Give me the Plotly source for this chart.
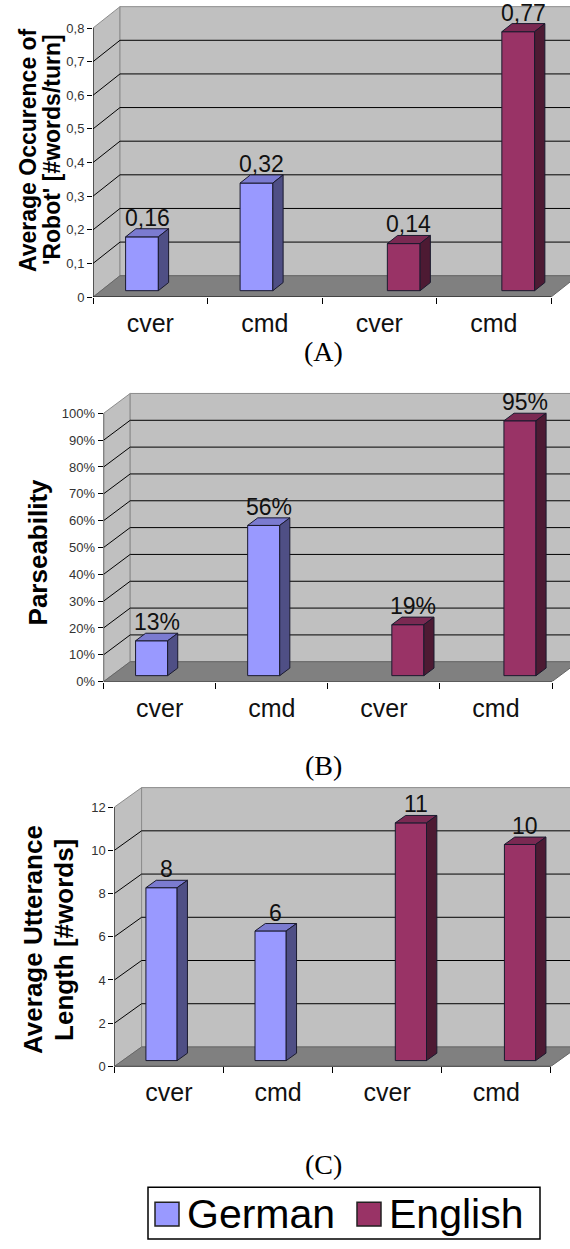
import plotly.graph_objects as go

W, H = 570, 1249

# ---- data -----------------------------------------------------------------
categories = ["cver", "cmd", "cver", "cmd"]
series_names = ["German", "English"]

# (A) average occurrence of 'Robot' per turn
robot_german = [0.16, 0.32, None, None]
robot_english = [None, None, 0.14, 0.77]
robot_tickvals = [0, 0.1, 0.2, 0.3, 0.4, 0.5, 0.6, 0.7, 0.8]
robot_ticktext = ["0", "0,1", "0,2", "0,3", "0,4", "0,5", "0,6", "0,7", "0,8"]

# (B) parseability
parse_german = [0.13, 0.56, None, None]
parse_english = [None, None, 0.19, 0.95]
parse_tickvals = [0, 0.1, 0.2, 0.3, 0.4, 0.5, 0.6, 0.7, 0.8, 0.9, 1.0]
parse_ticktext = ["0%", "10%", "20%", "30%", "40%", "50%", "60%", "70%", "80%", "90%", "100%"]

# (C) average utterance length
length_german = [8, 6, None, None]
length_english = [None, None, 11, 10]
length_tickvals = [0, 2, 4, 6, 8, 10, 12]
length_ticktext = ["0", "2", "4", "6", "8", "10", "12"]

# ---- styling ----------------------------------------------------------------
FRONT = ["#9999FF", "#993366"]
TOP = ["#7B7BD0", "#7A2952"]
SIDE = ["#4F4F85", "#4D1A33"]
WALL = "#C0C0C0"
FLOOR = "#808080"
EDGE = "#8C8C8C"
SANS = "Liberation Sans, Arial, sans-serif"
SERIF = "Liberation Serif, Times New Roman, serif"

GAP = 0.214      # space before the first bar inside a category
BARW = 0.286     # bar width in category units
D1, D2 = 0.30, 0.68   # bar depth span as a fraction of the floor depth


def fmt_comma(v):
    return f"{v:.2f}".replace(".", ",")


def fmt_pct(v):
    return f"{round(v * 100)}%"


def fmt_int(v):
    return f"{v:g}"


panels = [
    dict(german=robot_german, english=robot_english, tickvals=robot_tickvals,
         ticktext=robot_ticktext, fmt=fmt_comma,
         title=["Average Occurence of", "'Robot' [#words/turn]"],
         title_x=[28, 52], title_y=151, title_size=23, tag="(A)", tag_y=354,
         x0=93, cw=114.5, py0=299, ppu=338.5, top=2, dxp=27, dyp=21.5),
    dict(german=parse_german, english=parse_english, tickvals=parse_tickvals,
         ticktext=parse_ticktext, fmt=fmt_pct,
         title=["Parseability"],
         title_x=[38], title_y=556, title_size=26, tag="(B)", tag_y=770,
         x0=103.6, cw=112.1, py0=686, ppu=270, top=390, dxp=26.6, dyp=20),
    dict(german=length_german, english=length_english, tickvals=length_tickvals,
         ticktext=length_ticktext, fmt=fmt_int,
         title=["Average Utterance", "Length [#words]"],
         title_x=[33, 64], title_y=946, title_size=26, tag="(C)", tag_y=1172,
         x0=114.4, cw=109.1, py0=1073.3, ppu=21.75, top=788, dxp=27.2, dyp=19.6),
]


def px(x):
    return x / W


def py(y):
    return 1 - y / H


fig = go.Figure()
shapes = []
annotations = []
layout = {}

ncat = len(categories)


def path(pts):
    return "M " + " L ".join(f"{x},{y}" for x, y in pts) + " Z"


for i, p in enumerate(panels):
    n = "" if i == 0 else str(i + 1)
    xa, ya = "x" + n, "y" + n
    ymax = p["tickvals"][-1]
    xend = (W - p["x0"]) / p["cw"]
    yend = (p["py0"] - p["top"]) / p["ppu"]
    DX = p["dxp"] / p["cw"]
    DY = p["dyp"] / p["ppu"]

    layout["xaxis" + n] = dict(
        domain=[px(p["x0"]), 1], range=[0, xend], anchor=ya,
        tickmode="array", tickvals=[k + 0.5 for k in range(ncat)], ticktext=categories,
        ticks="", showgrid=False, zeroline=False, showline=False,
        tickfont=dict(family=SANS, size=25, color="#111"), ticklabelstandoff=9,
        minor=dict(tickmode="array", tickvals=list(range(ncat + 1)), ticks="outside",
                   ticklen=6, tickcolor="#000", tickwidth=1, showgrid=False),
        fixedrange=True,
    )
    layout["yaxis" + n] = dict(
        domain=[py(p["py0"]), py(p["top"])], range=[0, yend], anchor=xa,
        tickmode="array", tickvals=p["tickvals"], ticktext=p["ticktext"],
        ticks="outside", ticklen=5, tickcolor="#000", tickwidth=1,
        showgrid=False, zeroline=False, showline=False,
        tickfont=dict(family=SANS, size=13, color="#333"),
        fixedrange=True,
    )

    # side wall, back wall and floor
    shapes.append(dict(type="path", xref=xa, yref=ya, layer="below",
                       path=path([(0, 0), (DX, DY), (DX, ymax + DY), (0, ymax)]),
                       fillcolor=WALL, line=dict(color=EDGE, width=1)))
    shapes.append(dict(type="rect", xref=xa, yref=ya, layer="below",
                       x0=DX, x1=xend + 0.05, y0=DY, y1=ymax + DY,
                       fillcolor=WALL, line=dict(color=EDGE, width=1)))
    shapes.append(dict(type="path", xref=xa, yref=ya, layer="below",
                       path=path([(0, 0), (ncat, 0), (ncat + DX, DY), (DX, DY)]),
                       fillcolor=FLOOR, line=dict(color="#666", width=1)))
    # gridlines running over the side wall and back wall
    for v in p["tickvals"][1:-1]:
        shapes.append(dict(type="path", xref=xa, yref=ya, layer="below",
                           path=f"M 0,{v} L {DX},{v + DY} L {xend + 0.05},{v + DY}",
                           line=dict(color="#000", width=1)))
    # front axis lines
    shapes.append(dict(type="line", xref=xa, yref=ya, layer="below",
                       x0=0, x1=0, y0=0, y1=ymax, line=dict(color="#000", width=1)))
    shapes.append(dict(type="line", xref=xa, yref=ya, layer="below",
                       x0=0, x1=ncat, y0=0, y1=0, line=dict(color="#000", width=1)))

    ddx = (D2 - D1) * DX
    ddy = (D2 - D1) * DY
    base = D1 * DY
    for s, vals in enumerate([p["german"], p["english"]]):
        xs, ys = [], []
        for k, v in enumerate(vals):
            if v is None:
                continue
            xs.append(k + GAP + BARW * s + BARW / 2 + D1 * DX)
            ys.append(v)
        fig.add_trace(go.Bar(
            x=xs, y=ys, base=base, width=BARW, xaxis=xa, yaxis=ya,
            marker=dict(color=FRONT[s], line=dict(color="#1a1a2e", width=1)),
            name=series_names[s], showlegend=False, hoverinfo="skip",
        ))
        for xc, v in zip(xs, ys):
            xl, xr = xc - BARW / 2, xc + BARW / 2
            t = base + v
            fig.add_trace(go.Scatter(
                x=[xl, xr, xr + ddx, xl + ddx, xl], y=[t, t, t + ddy, t + ddy, t],
                mode="lines", fill="toself", fillcolor=TOP[s],
                line=dict(color="#1a1a2e", width=1), xaxis=xa, yaxis=ya,
                showlegend=False, hoverinfo="skip"))
            fig.add_trace(go.Scatter(
                x=[xr, xr, xr + ddx, xr + ddx, xr], y=[base, t, t + ddy, base + ddy, base],
                mode="lines", fill="toself", fillcolor=SIDE[s],
                line=dict(color="#1a1a2e", width=1), xaxis=xa, yaxis=ya,
                showlegend=False, hoverinfo="skip"))
            annotations.append(dict(
                xref=xa, yref=ya, x=xc + ddx / 2, y=t + ddy, text=p["fmt"](v),
                showarrow=False, xanchor="center", yanchor="bottom", yshift=-4,
                font=dict(family=SANS, size=23, color="#111")))

    # axis title
    for line, tx in zip(p["title"], p["title_x"]):
        annotations.append(dict(
            xref="paper", yref="paper", x=px(tx), y=py(p["title_y"]), text=f"<b>{line}</b>",
            textangle=-90, showarrow=False, xanchor="center", yanchor="middle",
            font=dict(family=SANS, size=p["title_size"], color="#000")))
    # panel tag
    annotations.append(dict(
        xref="paper", yref="paper", x=px(323), y=py(p["tag_y"]), text=p["tag"],
        showarrow=False, xanchor="center", yanchor="middle",
        font=dict(family=SERIF, size=28, color="#000")))

# legend box
shapes.append(dict(type="rect", xref="paper", yref="paper",
                   x0=px(148), x1=px(540), y0=py(1247), y1=py(1195),
                   fillcolor="#fff", line=dict(color="#000", width=1.5)))
legend_sq_x = [155, 357]
legend_tx_x = [185, 387]
for s in range(2):
    shapes.append(dict(type="rect", xref="paper", yref="paper",
                       x0=px(legend_sq_x[s]), x1=px(legend_sq_x[s] + 24),
                       y0=py(1234), y1=py(1210),
                       fillcolor=FRONT[s], line=dict(color="#222", width=1.5)))
    annotations.append(dict(
        xref="paper", yref="paper", x=px(legend_tx_x[s]), y=py(1222), text=series_names[s],
        showarrow=False, xanchor="left", yanchor="middle",
        font=dict(family=SANS, size=41, color="#000")))

fig.update_layout(
    width=W, height=H, margin=dict(l=0, r=0, t=0, b=0),
    paper_bgcolor="#fff", plot_bgcolor="rgba(0,0,0,0)",
    barmode="overlay", showlegend=False,
    shapes=shapes, annotations=annotations, **layout,
)

fig.write_html("out.html")
